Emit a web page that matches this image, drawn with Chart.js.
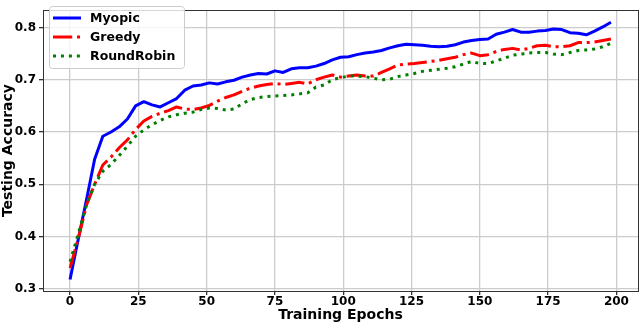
<!DOCTYPE html>
<html>
<head>
<meta charset="utf-8">
<script src="https://cdn.jsdelivr.net/npm/chart.js@4/dist/chart.umd.min.js"></script>
<style>
  html, body { margin: 0; padding: 0; background: #fff; }
  #grafico { display: block; }
</style>
</head>
<body>
<canvas id="grafico" width="640" height="324"></canvas>
<script>
// epochs sampled every 3
const epochs = [0, 3, 6, 9, 12, 15, 18, 21, 24, 27, 30, 33, 36, 39, 42, 45, 48, 51, 54, 57,
  60, 63, 66, 69, 72, 75, 78, 81, 84, 87, 90, 93, 96, 99, 102, 105, 108, 111, 114, 117,
  120, 123, 126, 129, 132, 135, 138, 141, 144, 147, 150, 153, 156, 159, 162, 165, 168, 171, 174, 177,
  180, 183, 186, 189, 192, 195, 198];

const myopic = [0.318, 0.395, 0.470, 0.548, 0.592, 0.600, 0.610, 0.625, 0.650, 0.658,
  0.652, 0.648, 0.656, 0.664, 0.680, 0.688, 0.690, 0.694, 0.692, 0.696,
  0.699, 0.705, 0.709, 0.712, 0.711, 0.717, 0.714, 0.721, 0.723, 0.723,
  0.726, 0.731, 0.738, 0.743, 0.744, 0.748, 0.751, 0.753, 0.756, 0.761,
  0.765, 0.768, 0.767, 0.766, 0.764, 0.763, 0.764, 0.767, 0.772, 0.775,
  0.777, 0.778, 0.787, 0.791, 0.796, 0.791, 0.791, 0.793, 0.794, 0.797,
  0.796, 0.790, 0.789, 0.786, 0.793, 0.801, 0.810];

const greedy = [0.340, 0.396, 0.460, 0.500, 0.537, 0.552, 0.570, 0.585, 0.605, 0.621,
  0.630, 0.636, 0.641, 0.648, 0.644, 0.643, 0.646, 0.651, 0.659, 0.666,
  0.671, 0.678, 0.684, 0.688, 0.691, 0.693, 0.691, 0.693, 0.695, 0.692,
  0.700, 0.705, 0.709, 0.705, 0.707, 0.709, 0.707, 0.707, 0.714, 0.721,
  0.728, 0.730, 0.731, 0.733, 0.735, 0.737, 0.740, 0.743, 0.748, 0.751,
  0.746, 0.748, 0.754, 0.758, 0.760, 0.757, 0.760, 0.765, 0.766, 0.763,
  0.763, 0.765, 0.771, 0.771, 0.772, 0.775, 0.778];

const roundRobin = [0.352, 0.405, 0.460, 0.500, 0.525, 0.538, 0.555, 0.573, 0.592, 0.604,
  0.614, 0.622, 0.629, 0.633, 0.636, 0.638, 0.643, 0.646, 0.645, 0.642,
  0.644, 0.654, 0.662, 0.666, 0.668, 0.669, 0.670, 0.671, 0.673, 0.675,
  0.686, 0.690, 0.700, 0.704, 0.707, 0.707, 0.706, 0.703, 0.700, 0.701,
  0.706, 0.709, 0.712, 0.716, 0.718, 0.720, 0.722, 0.725, 0.730, 0.735,
  0.731, 0.731, 0.736, 0.741, 0.747, 0.749, 0.751, 0.752, 0.752, 0.749,
  0.748, 0.752, 0.756, 0.757, 0.759, 0.763, 0.770];

const xTicks = [0, 25, 50, 75, 100, 125, 150, 175, 200];
const yTicks = [0.3, 0.4, 0.5, 0.6, 0.7, 0.8];

const FONTE = "'DejaVu Sans', sans-serif";

function pontos(valores) {
  return epochs.map((e, i) => ({ x: e, y: valores[i] }));
}

// moldura completa + legenda dentro da area do grafico
const molduraELegenda = {
  id: "molduraELegenda",
  afterDraw(chart) {
    const ctx = chart.ctx;
    const a = chart.chartArea;
    ctx.save();
    ctx.strokeStyle = "#333";
    ctx.lineWidth = 1;
    ctx.strokeRect(Math.round(a.left) + 0.5, Math.round(a.top) + 0.5,
      Math.round(a.right - a.left), Math.round(a.bottom - a.top));

    const x0 = 49, y0 = 6, w = 135, h = 62;
    ctx.beginPath();
    ctx.roundRect(x0 + 0.5, y0 + 0.5, w, h, 3);
    ctx.fillStyle = "rgba(255,255,255,0.8)";
    ctx.fill();
    ctx.strokeStyle = "#cccccc";
    ctx.stroke();

    chart.data.datasets.forEach((ds, i) => {
      const y = 18 + i * 19;
      ctx.beginPath();
      ctx.setLineDash(ds.borderDash || []);
      ctx.lineCap = "butt";
      ctx.strokeStyle = ds.borderColor;
      ctx.lineWidth = ds.borderWidth;
      ctx.moveTo(53, y);
      ctx.lineTo(81, y);
      ctx.stroke();
      ctx.setLineDash([]);
      ctx.fillStyle = "#000";
      ctx.font = "bold 12.5px " + FONTE;
      ctx.textBaseline = "middle";
      ctx.fillText(ds.label, 90, y + 1);
    });
    ctx.restore();
  }
};

new Chart(document.getElementById("grafico").getContext("2d"), {
  type: "line",
  data: {
    datasets: [
      { label: "Myopic", data: pontos(myopic), borderColor: "#0000ff", borderWidth: 3, order: 2 },
      { label: "Greedy", data: pontos(greedy), borderColor: "#ff0000", borderWidth: 3,
        borderDash: [19.2, 4.8, 3, 4.8], order: 1 },
      { label: "RoundRobin", data: pontos(roundRobin), borderColor: "#008000", borderWidth: 3,
        borderDash: [3, 4.95], order: 0 }
    ]
  },
  options: {
    responsive: false,
    animation: false,
    layout: { padding: { left: 0, right: 2, top: 1.5, bottom: 0 } },
    elements: {
      point: { radius: 0 },
      line: { tension: 0, borderCapStyle: "butt", borderJoinStyle: "round" }
    },
    plugins: { legend: { display: false }, tooltip: { enabled: false } },
    scales: {
      x: {
        type: "linear",
        min: -9.9,
        max: 207.9,
        afterBuildTicks: (s) => { s.ticks = xTicks.map(v => ({ value: v })); },
        afterFit: (s) => { s.height = 33; },
        ticks: {
          color: "#000",
          padding: 0,
          font: { family: FONTE, size: 12, weight: "bold" },
          maxRotation: 0
        },
        grid: { color: "#cccccc", lineWidth: 1.3, tickLength: 4, tickColor: "#333" },
        border: { color: "#333", width: 1 },
        title: {
          display: true,
          text: "Training Epochs",
          color: "#000",
          padding: 0,
          font: { family: FONTE, size: 14, weight: "bold" }
        }
      },
      y: {
        min: 0.296,
        max: 0.833,
        afterBuildTicks: (s) => { s.ticks = yTicks.map(v => ({ value: v })); },
        afterFit: (s) => { s.width = 43; },
        ticks: {
          color: "#000",
          padding: 3,
          font: { family: FONTE, size: 12, weight: "bold" },
          callback: (v) => v.toFixed(1)
        },
        grid: { color: "#cccccc", lineWidth: 1.3, tickLength: 4, tickColor: "#333" },
        border: { color: "#333", width: 1 },
        title: {
          display: true,
          text: "Testing Accuracy",
          color: "#000",
          padding: 0,
          font: { family: FONTE, size: 14, weight: "bold" }
        }
      }
    }
  },
  plugins: [molduraELegenda]
});
</script>
</body>
</html>
